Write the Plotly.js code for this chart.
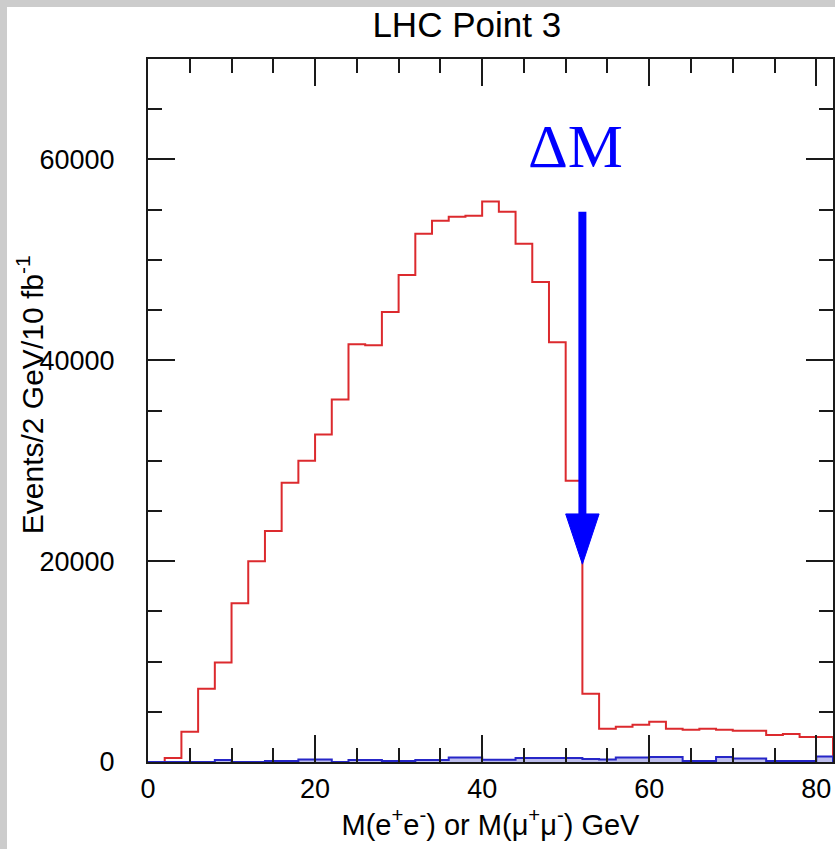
<!DOCTYPE html>
<html>
<head>
<meta charset="utf-8">
<script src="https://cdn.plot.ly/plotly-3.0.1.min.js"></script>
<style>
  html, body { margin:0; padding:0; width:835px; height:849px; overflow:hidden;
    background: linear-gradient(to right, #cccccc 7px, rgba(255,255,255,0) 7px),
                linear-gradient(to bottom, #cccccc 7px, #ffffff 7px); }
  #chart { position:absolute; left:0; top:0; width:835px; height:849px; }
</style>
</head>
<body>
<div id="chart"></div>
<script>
// Lower edges of the 2 GeV bins
const binLow = [0,2,4,6,8,10,12,14,16,18,20,22,24,26,28,30,32,34,36,38,40,
                42,44,46,48,50,52,54,56,58,60,62,64,66,68,70,72,74,76,78,80];
const binUpper = 82;
// Signal (red) histogram, events / 2 GeV / 10 fb^-1
const signalCounts = [0,400,3000,7300,9900,15800,20000,23000,27800,30000,32600,
                      36100,41600,41500,44800,48500,52600,53900,54300,54400,55800,
                      54800,51600,47800,41800,28000,6800,3300,3500,3700,4000,
                      3300,3200,3300,3200,3100,3100,2700,2800,2500,2500];
// Background (blue, hatched) histogram
const backgroundCounts = [0,0,0,0,200,0,0,100,100,250,250,0,200,200,100,100,200,200,
                          450,450,230,230,400,400,400,400,300,250,450,450,500,500,
                          100,100,500,350,350,100,100,100,550];
// Tick labels
const xTickVals = [0,20,40,60,80];
const xTickText = ['0','20','40','60','80'];
const yTickVals = [0,20000,40000,60000];
const yTickText = ['0','20000','40000','60000'];
// Endpoint marker (arrow) and its label
const arrowX = 52, arrowTop = 54800, arrowTip = 19700, headHalfW = 2, headLen = 5000;
const labelX = 51.2, labelY = 61300;

function stepXY(vals) {
  const xs = binLow.concat([binUpper, binUpper]);
  const ys = vals.concat([vals[vals.length-1], 0]);
  return {x: xs, y: ys};
}

const sig = stepXY(signalCounts);
const bkg = stepXY(backgroundCounts);

const traces = [
  {x: sig.x, y: sig.y, type:'scatter', mode:'lines', line:{shape:'hv', color:'#dc2a2e', width:2},
   showlegend:false},
  {x: bkg.x, y: bkg.y, type:'scatter', mode:'lines', line:{shape:'hv', color:'#2626c8', width:2},
   fill:'tozeroy', fillcolor:'rgba(110,110,215,0.45)', showlegend:false}
];

const font = 'Liberation Sans, Arial, sans-serif';
const axCommon = {
  showline:true, linecolor:'#1a1a1a', linewidth:2, mirror:'allticks',
  ticks:'inside', ticklen:27, tickwidth:2, tickcolor:'#1a1a1a',
  showgrid:false, zeroline:false,
  tickfont:{family:font, size:27, color:'#000'},
  minor:{ticks:'inside', ticklen:14, tickwidth:2, tickcolor:'#1a1a1a', showgrid:false}
};

const layout = {
  width:835, height:849,
  margin:{l:148, r:2, t:59, b:87},
  paper_bgcolor:'rgba(0,0,0,0)', plot_bgcolor:'#ffffff',
  title:{text:'LHC Point 3', font:{family:font, size:35, color:'#000'},
         xref:'container', x:0.559, xanchor:'center', yref:'container', y:0.971, yanchor:'middle'},
  xaxis:Object.assign({}, axCommon, {
    range:[0, binUpper], tickmode:'array', tickvals:xTickVals, ticktext:xTickText, ticklabelstandoff:2,
    minor:Object.assign({}, axCommon.minor, {dtick:5, tick0:0}),
    title:{text:'M(e<sup>+</sup>e<sup>-</sup>) or M(μ<sup>+</sup>μ<sup>-</sup>) GeV',
           font:{family:font, size:29, color:'#000'}, standoff:4}
  }),
  yaxis:Object.assign({}, axCommon, {
    range:[0, 70000], tickmode:'array', tickvals:yTickVals, ticktext:yTickText, ticklabelstandoff:26,
    minor:Object.assign({}, axCommon.minor, {dtick:5000, tick0:0})
  }),
  shapes:[
    {type:'line', xref:'x', yref:'y', x0:arrowX, x1:arrowX, y0:arrowTop, y1:arrowTip+headLen,
     line:{color:'#0000ff', width:8}, layer:'above'},
    {type:'path', xref:'x', yref:'y',
     path:'M'+(arrowX-headHalfW)+','+(arrowTip+headLen)+' L'+(arrowX+headHalfW)+','+(arrowTip+headLen)+' L'+arrowX+','+arrowTip+' Z',
     fillcolor:'#0000ff', line:{color:'#0000ff', width:1}, layer:'above'}
  ],
  annotations:[
    {text:'ΔM', x:labelX, y:labelY, xref:'x', yref:'y', showarrow:false,
     xanchor:'center', yanchor:'middle',
     font:{family:'Liberation Serif, Times New Roman, serif', size:62, color:'#0000ff'}},
    {text:'Events/2 GeV/10 fb<sup>-1</sup>', xref:'paper', yref:'paper',
     x:-0.172, y:0.522, xanchor:'center', yanchor:'middle', textangle:-90, showarrow:false,
     font:{family:font, size:30, color:'#000'}}
  ]
};

Plotly.newPlot('chart', traces, layout, {displayModeBar:false, staticPlot:true});
</script>
</body>
</html>
